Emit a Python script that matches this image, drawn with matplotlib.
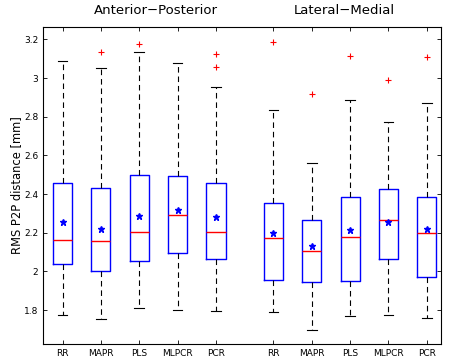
import matplotlib
matplotlib.use("Agg")
import matplotlib.pyplot as plt

methods = ["RR", "MAPR", "PLS", "MLPCR", "PCR"]
groups = ["Anterior\u2212Posterior", "Lateral\u2212Medial"]

# per box: whisker low, q1, median, q3, whisker high, mean, outliers
ap_whislo = [1.775, 1.756, 1.813, 1.799, 1.794]
ap_q1 = [2.040, 2.000, 2.054, 2.094, 2.063]
ap_med = [2.161, 2.159, 2.204, 2.292, 2.204]
ap_q3 = [2.459, 2.432, 2.499, 2.495, 2.456]
ap_whishi = [3.086, 3.053, 3.133, 3.079, 2.955]
ap_mean = [2.254, 2.221, 2.285, 2.316, 2.280]
ap_fliers = [[], [3.133], [3.174], [], [3.122, 3.057]]

lm_whislo = [1.789, 1.699, 1.768, 1.772, 1.761]
lm_q1 = [1.955, 1.944, 1.951, 2.063, 1.970]
lm_med = [2.170, 2.106, 2.180, 2.266, 2.199]
lm_q3 = [2.356, 2.268, 2.383, 2.428, 2.383]
lm_whishi = [2.836, 2.559, 2.888, 2.773, 2.872]
lm_mean = [2.196, 2.130, 2.214, 2.256, 2.218]
lm_fliers = [[3.188], [2.916], [3.114], [2.988], [3.109]]

ap_pos = [1, 2, 3, 4, 5]
lm_pos = [6.5, 7.5, 8.5, 9.5, 10.5]


def stats(lo, q1, med, q3, hi, mean, fl):
    return [dict(whislo=a, q1=b, med=c, q3=d, whishi=e, mean=f, fliers=g)
            for a, b, c, d, e, f, g in zip(lo, q1, med, q3, hi, mean, fl)]


fig = plt.figure(figsize=(4.49, 3.58), dpi=100)
ax = fig.add_axes([0.0958, 0.039, 0.8864, 0.8856])

style = dict(
    widths=0.5, showmeans=True,
    boxprops=dict(color="blue", lw=1.0),
    medianprops=dict(color="red", lw=1.0),
    whiskerprops=dict(color="black", lw=0.8, ls=(0, (5, 3.5))),
    capprops=dict(color="black", lw=0.8),
    capwidths=0.25,
    meanprops=dict(marker="*", markerfacecolor="blue", markeredgecolor="blue", markersize=5),
    flierprops=dict(marker="+", markeredgecolor="red", markersize=5, markeredgewidth=0.8),
)
ax.bxp(stats(ap_whislo, ap_q1, ap_med, ap_q3, ap_whishi, ap_mean, ap_fliers),
       positions=ap_pos, **style)
ax.bxp(stats(lm_whislo, lm_q1, lm_med, lm_q3, lm_whishi, lm_mean, lm_fliers),
       positions=lm_pos, **style)

ax.set_xlim(0.49, 10.87)
ax.set_ylim(1.624, 3.264)
ax.set_xticks(ap_pos + lm_pos)
ax.set_xticklabels(methods + methods, fontsize=6.5)
ax.set_yticks([1.8, 2.0, 2.2, 2.4, 2.6, 2.8, 3.0, 3.2])
ax.set_yticklabels(["1.8", "2", "2.2", "2.4", "2.6", "2.8", "3", "3.2"], fontsize=6.5)
ax.tick_params(direction="in", top=True, right=True, length=3, width=0.6)
for s in ax.spines.values():
    s.set_linewidth(0.8)
ax.set_ylabel("RMS P2P distance [mm]", fontsize=8.3, labelpad=0.5)

ax.text(3.43, 1.03, groups[0], transform=ax.get_xaxis_transform(),
        ha="center", va="bottom", fontsize=9.5)
ax.text(8.36, 1.03, groups[1], transform=ax.get_xaxis_transform(),
        ha="center", va="bottom", fontsize=9.5)

fig.savefig("out.png", dpi=100)
